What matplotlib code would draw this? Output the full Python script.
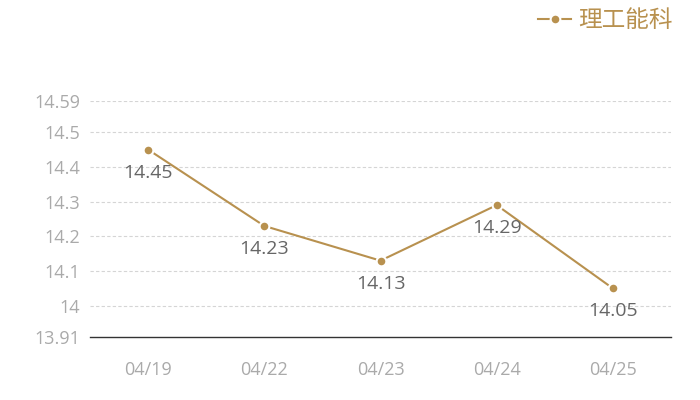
import matplotlib
matplotlib.use("Agg")
import matplotlib.pyplot as plt

dates = ["04/19", "04/22", "04/23", "04/24", "04/25"]
values = [14.45, 14.23, 14.13, 14.29, 14.05]
yticks = [13.91, 14.0, 14.1, 14.2, 14.3, 14.4, 14.5, 14.59]
ytick_labels = ["13.91", "14", "14.1", "14.2", "14.3", "14.4", "14.5", "14.59"]
series_name = "理工能科"

gold = "#b8914f"
plt.rcParams['font.family'] = ['Open Sans', 'Noto Sans CJK SC', 'DejaVu Sans']

fig = plt.figure(figsize=(7, 4), dpi=100)
ax = fig.add_axes([90/700, 1-337/400, 581/700, 236/400])

x = list(range(len(dates)))
ax.plot(x, values, color=gold, lw=1.5, marker='o', markersize=7,
        markerfacecolor=gold, markeredgecolor='white', markeredgewidth=1.5,
        label=series_name, zorder=3)
for xi, v in zip(x, values):
    ax.annotate(f"{v:.2f}", (xi, v), xytext=(0, -16.5), textcoords='offset points',
                ha='center', va='center', fontsize=14, color='#666666')

ax.set_xlim(-0.5, len(dates) - 0.5)
ax.set_ylim(13.91, 14.59)
ax.set_yticks(yticks)
ax.set_yticklabels(ytick_labels)
ax.set_xticks(x)
ax.set_xticklabels(dates)
ax.tick_params(axis='both', length=0, colors='#aaaaaa', labelsize=13)
ax.tick_params(axis='y', pad=7)
ax.tick_params(axis='x', pad=17)
for yt in yticks[1:]:
    ax.axhline(yt, color='#d5d5d5', lw=0.8, ls=(0, (3, 2)), zorder=1)
for s in ['top', 'right', 'left']:
    ax.spines[s].set_visible(False)
ax.spines['bottom'].set_color('#333333')
ax.spines['bottom'].set_linewidth(1)

leg = fig.legend(loc='upper right', bbox_to_anchor=(0.975, 1.0), frameon=False,
                 fontsize=17, handlelength=1.4, handletextpad=0.3,
                 borderaxespad=0.0)
for t in leg.get_texts():
    t.set_color(gold)

fig.savefig("out.png", dpi=100)
